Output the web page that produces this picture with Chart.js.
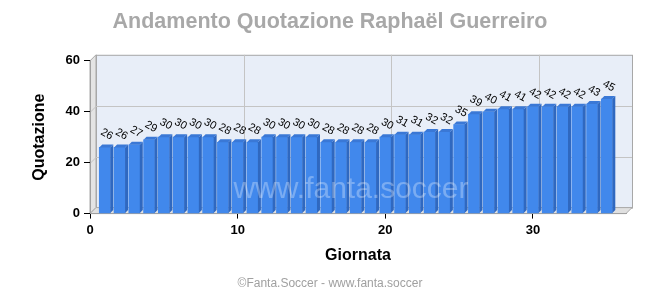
<!DOCTYPE html>
<html>
<head>
<meta charset="utf-8">
<script src="https://cdn.jsdelivr.net/npm/chart.js@4"></script>
<style>
html, body { margin: 0; padding: 0; background: #fff; }
</style>
</head>
<body>
<canvas id="grafico" width="660" height="300"></canvas>
<script>
// dati
const giornate = [1, 2, 3, 4, 5, 6, 7, 8, 9, 10, 11, 12, 13, 14, 15, 16, 17, 18, 19, 20,
    21, 22, 23, 24, 25, 26, 27, 28, 29, 30, 31, 32, 33, 34, 35];
const quotazioni = [26, 26, 27, 29, 30, 30, 30, 30, 28, 28, 28, 30, 30, 30, 30, 28, 28, 28, 28, 30,
    31, 31, 32, 32, 35, 39, 40, 41, 41, 42, 42, 42, 42, 43, 45];
const xTicks = [0, 10, 20, 30];
const yTicks = [0, 20, 40, 60];

const FONT = "'Liberation Sans', Arial, sans-serif";
const WALL = 6;   // profondita pareti
const DEPTH = 3;  // profondita barre

// pareti, pavimento e griglia 3D
const sfondo3d = {
    id: 'sfondo3d',
    beforeDraw(chart) {
        const ctx = chart.ctx;
        const a = chart.chartArea;
        const xs = chart.scales.x, ys = chart.scales.y;
        ctx.save();
        ctx.lineWidth = 1;
        // parete di fondo
        ctx.fillStyle = '#e8eef8';
        ctx.strokeStyle = '#a8a8a8';
        ctx.fillRect(a.left + WALL, a.top - WALL, a.right - a.left, a.bottom - a.top);
        ctx.strokeRect(a.left + WALL + 0.5, a.top - WALL + 0.5, a.right - a.left, a.bottom - a.top);
        // parete sinistra
        ctx.fillStyle = '#e4e4e4';
        ctx.beginPath();
        ctx.moveTo(a.left, a.top);
        ctx.lineTo(a.left + WALL, a.top - WALL);
        ctx.lineTo(a.left + WALL, a.bottom - WALL);
        ctx.lineTo(a.left, a.bottom);
        ctx.closePath();
        ctx.fill();
        ctx.stroke();
        // pavimento
        ctx.fillStyle = '#e0e0e0';
        ctx.beginPath();
        ctx.moveTo(a.left, a.bottom);
        ctx.lineTo(a.left + WALL, a.bottom - WALL);
        ctx.lineTo(a.right + WALL, a.bottom - WALL);
        ctx.lineTo(a.right, a.bottom);
        ctx.closePath();
        ctx.fill();
        ctx.stroke();
        // griglia
        ctx.strokeStyle = '#c4c4c4';
        for (const v of yTicks) {
            if (v === 0 || v === 60) continue;
            const y = Math.round(ys.getPixelForValue(v)) + 0.5;
            ctx.beginPath();
            ctx.moveTo(a.left, y);
            ctx.lineTo(a.left + WALL, y - WALL);
            ctx.lineTo(a.right + WALL, y - WALL);
            ctx.stroke();
        }
        for (const v of xTicks) {
            if (v === 0) continue;
            const x = Math.round(xs.getPixelForValue(v)) + 0.5;
            ctx.beginPath();
            ctx.moveTo(x, a.bottom);
            ctx.lineTo(x + WALL, a.bottom - WALL);
            ctx.lineTo(x + WALL, a.top - WALL);
            ctx.stroke();
        }
        ctx.restore();
    }
};

// lati e cime delle barre, filigrana, etichette dei valori
const barre3d = {
    id: 'barre3d',
    afterDatasetsDraw(chart) {
        const ctx = chart.ctx;
        const meta = chart.getDatasetMeta(0);
        ctx.save();
        meta.data.forEach(function(bar, i) {
            const w = bar.width;
            const l = bar.x - w / 2, r = bar.x + w / 2;
            const top = bar.y, base = bar.base;
            // lato destro
            ctx.fillStyle = '#2f68c0';
            ctx.beginPath();
            ctx.moveTo(r, top);
            ctx.lineTo(r + DEPTH, top - DEPTH);
            ctx.lineTo(r + DEPTH, base - DEPTH);
            ctx.lineTo(r, base);
            ctx.closePath();
            ctx.fill();
            // cima
            ctx.fillStyle = '#3a78d6';
            ctx.beginPath();
            ctx.moveTo(l, top);
            ctx.lineTo(l + DEPTH, top - DEPTH);
            ctx.lineTo(r + DEPTH, top - DEPTH);
            ctx.lineTo(r, top);
            ctx.closePath();
            ctx.fill();
        });
        // scritta in filigrana
        ctx.fillStyle = 'rgba(255,255,255,0.3)';
        ctx.font = '30px ' + FONT;
        ctx.textAlign = 'center';
        ctx.textBaseline = 'middle';
        ctx.fillText('www.fanta.soccer', 351, 190);

        ctx.fillStyle = '#000';
        ctx.font = '11px ' + FONT;
        meta.data.forEach(function(bar, i) {
            ctx.save();
            ctx.translate(bar.x + 2, bar.y - 13);
            ctx.rotate(0.5);
            ctx.fillText(String(quotazioni[i]), 0, 0);
            ctx.restore();
        });
        ctx.restore();
    }
};

const ctx = document.getElementById('grafico');
const grafico = new Chart(ctx, {
    type: 'bar',
    data: {
        datasets: [{
            label: 'Quotazione',
            data: giornate.map((g, i) => ({ x: g, y: quotazioni[i] })),
            backgroundColor: '#4188ec',
            borderWidth: 0,
            barThickness: 11
        }]
    },
    options: {
        responsive: false,
        animation: false,
        devicePixelRatio: 1,
        layout: { padding: 0 },
        plugins: {
            legend: { display: false },
            tooltip: { enabled: false },
            title: {
                display: true,
                text: 'Andamento Quotazione Raphaël Guerreiro',
                color: '#a8a8a8',
                font: { family: FONT, size: 21.5, weight: 'bold' },
                padding: { top: 9, bottom: 26 }
            },
            subtitle: {
                display: true,
                position: 'bottom',
                text: '©Fanta.Soccer - www.fanta.soccer',
                color: '#a0a0a0',
                font: { family: FONT, size: 12 },
                padding: { top: 0, bottom: 9 }
            }
        },
        scales: {
            x: {
                type: 'linear',
                min: 0,
                max: 36.3,
                offset: false,
                afterBuildTicks: function(scale) {
                    scale.ticks = xTicks.map(v => ({ value: v }));
                },
                afterFit: function(scale) { scale.height = 63; },
                ticks: {
                    color: '#000',
                    padding: 4,
                    font: { family: FONT, size: 13, weight: 'bold' }
                },
                grid: { drawOnChartArea: false, offset: false, color: '#000', tickLength: 5 },
                border: { color: '#a0a0a0' },
                title: {
                    display: true,
                    text: 'Giornata',
                    color: '#000',
                    font: { family: FONT, size: 16, weight: 'bold' },
                    padding: { top: 0, bottom: 11 }
                }
            },
            y: {
                min: 0,
                max: 60,
                afterBuildTicks: function(scale) {
                    scale.ticks = yTicks.map(v => ({ value: v }));
                },
                afterFit: function(scale) { scale.width = 90; },
                ticks: {
                    color: '#000',
                    padding: 4,
                    font: { family: FONT, size: 13, weight: 'bold' }
                },
                grid: { drawOnChartArea: false, color: '#000', tickLength: 6 },
                border: { color: '#a0a0a0' },
                title: {
                    display: true,
                    text: 'Quotazione',
                    color: '#000',
                    font: { family: FONT, size: 16, weight: 'bold' },
                    padding: { top: 30, bottom: 0 }
                }
            },
            // spazio vuoto a destra del grafico
            destra: {
                position: 'right',
                min: 0,
                max: 60,
                ticks: { display: false },
                grid: { display: false },
                border: { display: false },
                afterFit: function(scale) { scale.width = 34; }
            }
        }
    },
    plugins: [sfondo3d, barre3d]
});
</script>
</body>
</html>
